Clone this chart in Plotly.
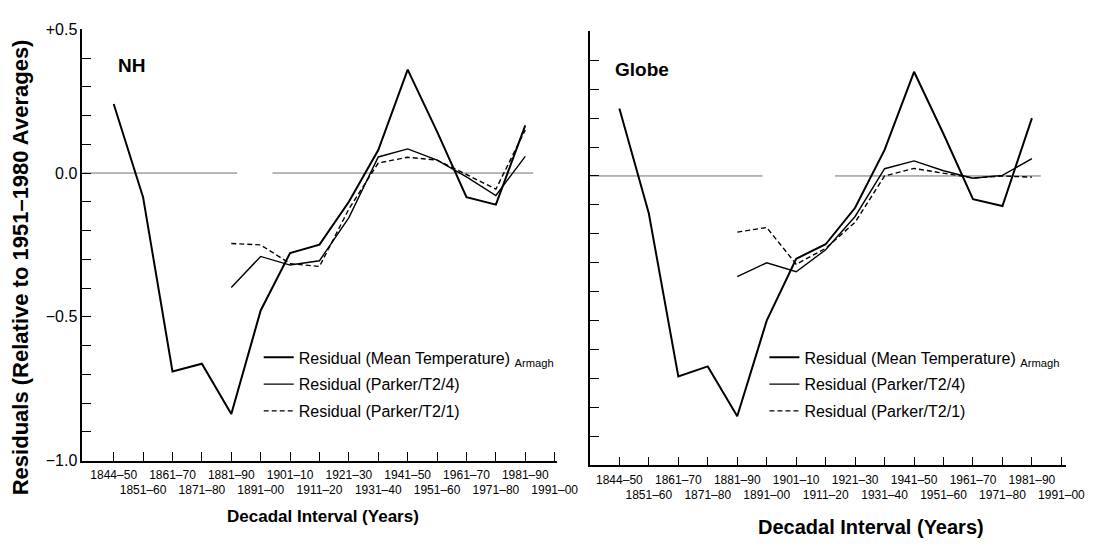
import plotly.graph_objects as go

W, H = 1101, 549

# Decadal intervals along the x axis
decades = ["1844–50", "1851–60", "1861–70", "1871–80", "1881–90", "1891–00",
           "1901–10", "1911–20", "1921–30", "1931–40", "1941–50", "1951–60",
           "1961–70", "1971–80", "1981–90", "1991–00"]

# Northern Hemisphere panel (residuals, deg C)
nh_armagh = [0.24, -0.084, -0.69, -0.663, -0.838, -0.478, -0.278, -0.249,
             -0.10, 0.08, 0.36, 0.144, -0.084, -0.11, 0.166]
nh_t2_4 = [None, None, None, None, -0.398, -0.29, -0.32, -0.305,
           -0.155, 0.056, 0.084, 0.045, -0.013, -0.078, 0.058]
nh_t2_1 = [None, None, None, None, -0.245, -0.25, -0.315, -0.325,
           -0.125, 0.035, 0.055, 0.045, -0.005, -0.056, 0.15]

# Global panel
gl_armagh = [0.233, -0.13, -0.693, -0.658, -0.83, -0.50, -0.286, -0.236,
             -0.11, 0.09, 0.36, 0.145, -0.08, -0.104, 0.20]
gl_t2_4 = [None, None, None, None, -0.348, -0.30, -0.331, -0.255,
           -0.14, 0.025, 0.052, 0.018, -0.008, 0.002, 0.06]
gl_t2_1 = [None, None, None, None, -0.194, -0.178, -0.305, -0.25,
           -0.16, 0.0, 0.026, 0.009, -0.007, 0.0, -0.004]

# y-axis ticks every 0.1, labelled at the half units
y_ticks = [round(-1.0 + 0.1 * i, 1) for i in range(16)]
y_labels = {0.5: "+0.5", 0.0: "0.0", -0.5: "−0.5", -1.0: "−1.0"}

# zero reference line pieces (decade-index positions)
nh_zero_spans = [(-1.07, 4.2), (5.4, 14.27)]
gl_zero_spans = [(-1.0, 4.86), (7.32, 14.3)]

SANS = "Liberation Sans, Arial, Helvetica, sans-serif"
NARROW = "Liberation Sans Narrow, Arial Narrow, Liberation Sans, sans-serif"


def px_x(x):
    return x / W


def px_y(y):
    return 1 - y / H


# alternate the decade labels on two rows
tick_text = [d if i % 2 == 0 else "<br>" + d for i, d in enumerate(decades)]

fig = go.Figure()

series = [
    ("x", "y", "legend", nh_armagh, nh_t2_4, nh_t2_1),
    ("x2", "y2", "legend2", gl_armagh, gl_t2_4, gl_t2_1),
]
for xa, ya, lg, arm, t24, t21 in series:
    n = len(arm)
    fig.add_trace(go.Scatter(
        x=decades[:n], y=arm, xaxis=xa, yaxis=ya, mode="lines",
        line=dict(color="black", width=2.0),
        name="Residual (Mean Temperature) <sub>Armagh</sub>",
        legend=lg, legendgroup=lg + "a"))
    fig.add_trace(go.Scatter(
        x=decades[:n], y=t24, xaxis=xa, yaxis=ya, mode="lines",
        line=dict(color="black", width=1.4),
        name="Residual (Parker/T2/4)", legend=lg, legendgroup=lg + "b"))
    fig.add_trace(go.Scatter(
        x=decades[:n], y=t21, xaxis=xa, yaxis=ya, mode="lines",
        line=dict(color="black", width=1.4, dash="5px,3px"),
        name="Residual (Parker/T2/1)", legend=lg, legendgroup=lg + "c"))

shapes = []
for xr, yr, spans in (("x", "y", nh_zero_spans), ("x2", "y2", gl_zero_spans)):
    for a, b in spans:
        shapes.append(dict(type="line", xref=xr, yref=yr, x0=a, x1=b, y0=0, y1=0,
                           line=dict(color="#707070", width=1), layer="below"))

common_x = dict(type="category", categoryorder="array", categoryarray=decades,
                tickmode="array", tickvals=decades, ticktext=tick_text,
                tickangle=0, ticklabelstandoff=2,
                ticks="inside", ticklen=9, tickwidth=1.2, tickcolor="black",
                showline=True, linecolor="black", linewidth=1.5,
                showgrid=False, zeroline=False,
                tickfont=dict(family=NARROW, size=12, color="black"))
common_y = dict(range=[-1.0, 0.5], tickmode="array", tickvals=y_ticks,
                ticks="inside", ticklen=9, tickwidth=1.2, tickcolor="black",
                showline=True, linecolor="black", linewidth=1.5,
                showgrid=False, zeroline=False,
                tickfont=dict(family=SANS, size=16, color="black"))

fig.update_layout(
    width=W, height=H,
    margin=dict(l=0, r=0, t=0, b=0),
    paper_bgcolor="white", plot_bgcolor="white",
    showlegend=True,
    xaxis=dict(common_x, domain=[px_x(84), px_x(568)], range=[-1.067, 15.067], anchor="y"),
    yaxis=dict(common_y, domain=[px_y(467), px_y(22)], anchor="x",
               ticktext=[y_labels.get(v, "") for v in y_ticks]),
    xaxis2=dict(common_x, domain=[px_x(602), px_x(1088)], range=[-0.998, 15.165], anchor="y2"),
    yaxis2=dict(common_y, domain=[px_y(472), px_y(24)], anchor="x2",
                showticklabels=False),
    legend=dict(x=px_x(264), y=px_y(343), xanchor="left", yanchor="top",
                bgcolor="rgba(0,0,0,0)", borderwidth=0, tracegroupgap=3,
                font=dict(family=SANS, size=16, color="black")),
    legend2=dict(x=px_x(780), y=px_y(343), xanchor="left", yanchor="top",
                 bgcolor="rgba(0,0,0,0)", borderwidth=0, tracegroupgap=3,
                 font=dict(family=SANS, size=16, color="black")),
    shapes=shapes,
    annotations=[
        dict(text="<b>Residuals (Relative to 1951–1980 Averages)</b>",
             xref="paper", yref="paper", x=px_x(21), y=px_y(268),
             xanchor="center", yanchor="middle", textangle=-90, showarrow=False,
             font=dict(family=SANS, size=22, color="black")),
        dict(text="<b>Decadal Interval (Years)</b>", xref="paper", yref="paper",
             x=px_x(330), y=px_y(525), xanchor="center", yanchor="middle",
             showarrow=False, font=dict(family=SANS, size=17, color="black")),
        dict(text="<b>Decadal Interval (Years)</b>", xref="paper", yref="paper",
             x=px_x(889), y=px_y(536), xanchor="center", yanchor="middle",
             showarrow=False, font=dict(family=SANS, size=20, color="black")),
        dict(text="<b>NH</b>", xref="paper", yref="paper",
             x=px_x(118), y=px_y(59), xanchor="left", yanchor="middle",
             showarrow=False, font=dict(family=SANS, size=19, color="black")),
        dict(text="<b>Globe</b>", xref="paper", yref="paper",
             x=px_x(625), y=px_y(63), xanchor="left", yanchor="middle",
             showarrow=False, font=dict(family=SANS, size=19, color="black")),
    ],
)

fig.write_html("out.html")
